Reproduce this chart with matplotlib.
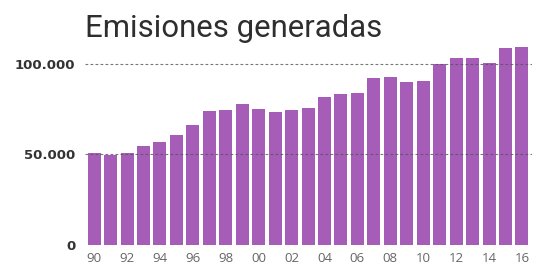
import matplotlib
matplotlib.use("Agg")
import matplotlib.pyplot as plt

years = list(range(1990, 2017))
values = [51000, 49500, 51000, 54500, 56700, 60400, 66400, 73900, 74700, 77800,
          74900, 73400, 74700, 75400, 81500, 83100, 83900, 91900, 92800, 89900,
          90600, 99800, 103300, 103300, 100600, 108400, 109400]
yticks = [0, 50000, 100000]
ytick_labels = ["0", "50.000", "100.000"]
title = "Emisiones generadas"

fig = plt.figure(figsize=(5.35, 2.69), dpi=100)
ax = fig.add_axes([0.159, 0.0890, 0.835, 0.762])
x = list(range(len(years)))
ax.bar(x, values, width=0.79, color="#a55db8", zorder=2)
ax.set_xlim(-0.55, 26.6)
ax.set_ylim(0, 113000)
for v in yticks[1:]:
    ax.axhline(v, color="#555555", lw=0.8, ls=(0, (2.5, 2)), alpha=0.8, zorder=3)
ax.set_yticks(yticks)
ax.set_yticklabels(ytick_labels, fontsize=9.5, fontweight="bold", color="#333333",
                   family="DejaVu Sans")
ax.set_xticks(x[::2])
ax.set_xticklabels([str(y)[2:] for y in years[::2]], fontsize=9.5, color="#666666",
                   family="Open Sans")
ax.tick_params(axis="y", length=0, pad=7)
ax.tick_params(axis="x", length=0, pad=5)
for s in ax.spines.values():
    s.set_visible(False)
fig.text(0.159, 0.8606, title, fontsize=22.4, color="#2e2e2e", family="Roboto",
         ha="left", va="baseline")
fig.savefig("out.png", dpi=100, facecolor="white")
